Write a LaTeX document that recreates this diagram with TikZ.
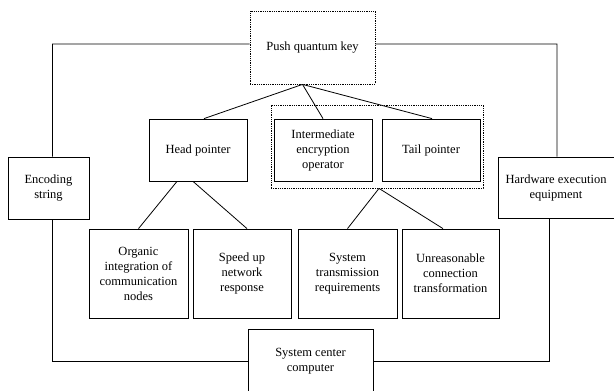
\documentclass[tikz,border=0pt]{standalone}
\usepackage{fontspec}
\setmainfont{Liberation Serif}
\begin{document}
\begin{tikzpicture}[x=1bp,y=-1bp,
  box/.style={draw, line width=0.8bp, align=center, inner sep=0pt,
    font=\fontsize{12.5bp}{15bp}\selectfont},
  dbox/.style={box, densely dotted},
  conn/.style={line width=0.8bp}]
\useasboundingbox (0,0) rectangle (614,390);
\clip (0,0) rectangle (614,390);
% group frame
\node[draw, densely dotted, line width=0.8bp, minimum width=212bp, minimum height=83bp] (grp) at (377,146.5) {};
% nodes
\node[dbox, minimum width=125bp, minimum height=73bp] (push) at (312.5,47.5) {Push quantum key};
\node[box, minimum width=98bp, minimum height=62bp] (head) at (198,150) {Head pointer};
\node[box, minimum width=98bp, minimum height=62bp] (inter) at (323,150) {Intermediate\\encryption\\operator};
\node[box, minimum width=98bp, minimum height=62bp] (tail) at (431,150) {Tail pointer};
\node[box, minimum width=81bp, minimum height=62bp] (enc) at (48.5,188) {Encoding\\string};
\node[box, minimum width=116bp, minimum height=61bp] (hw) at (556,187.5) {Hardware execution\\equipment};
\node[box, minimum width=99bp, minimum height=89bp] (org) at (138.5,273.5) {Organic\\integration of\\communication\\nodes};
\node[box, minimum width=98bp, minimum height=89bp] (speed) at (242,273.5) {Speed up\\network\\response};
\node[box, minimum width=99bp, minimum height=89bp] (sys) at (347.5,273.5) {System\\transmission\\requirements};
\node[box, minimum width=97bp, minimum height=89bp] (unr) at (450.5,273.5) {Unreasonable\\connection\\transformation};
\node[box, minimum width=125bp, minimum height=64bp] (cen) at (310.5,361) {System center\\computer};
% frame coordinates
\coordinate (tl) at (52.5,44);
\coordinate (tr) at (557,44);
\coordinate (bl) at (52.5,361);
\coordinate (br) at (549,361);
% outer loop
\draw[conn] ([yshift=3.5bp]push.west) -- (tl) -- (tl |- enc.north);
\draw[conn] ([yshift=3.5bp]push.east) -- (tr) -- (tr |- hw.north);
\draw[conn] (bl |- enc.south) -- (bl) -- (cen.west);
\draw[conn] (br |- hw.south) -- (br) -- (cen.east);
% tree
\coordinate (apex) at ([xshift=-10bp]push.south);
\draw[conn] (apex) -- ([xshift=6bp]head.north);
\draw[conn] (apex) -- (inter.north);
\draw[conn] (apex) -- ([xshift=1bp]tail.north);
\draw[conn] ([xshift=-21bp]head.south) -- (org.north);
\draw[conn] ([xshift=-5bp]head.south) -- ([xshift=5bp]speed.north);
\coordinate (gapex) at ([xshift=2bp]grp.south);
\draw[conn] (gapex) -- (sys.north);
\draw[conn] (gapex) -- ([xshift=-7.5bp]unr.north);
\end{tikzpicture}
\end{document}
